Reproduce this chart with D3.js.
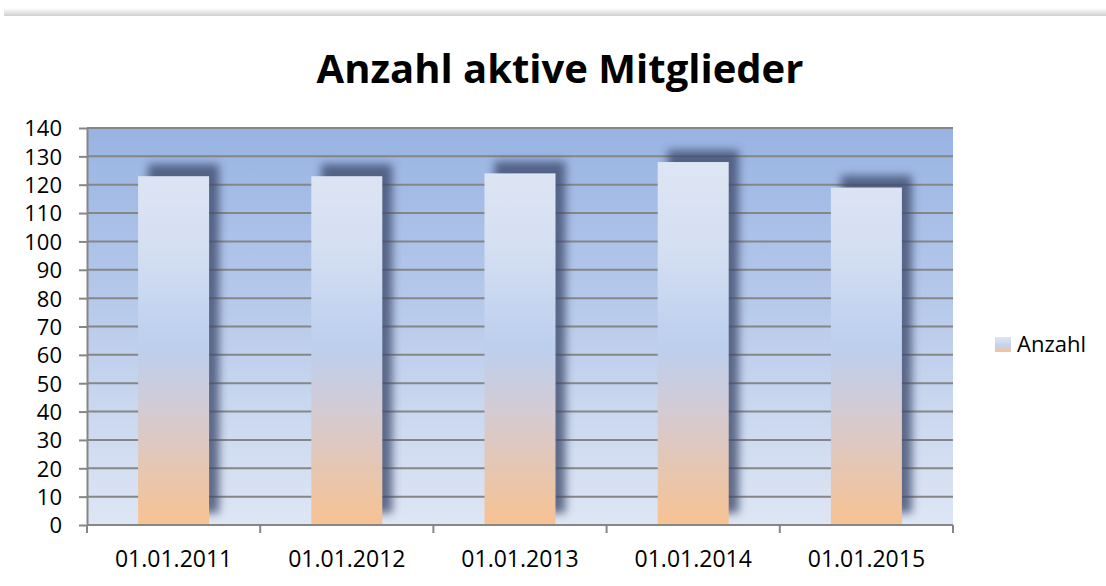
<!DOCTYPE html>
<html>
<head>
<meta charset="utf-8">
<script src="https://cdn.jsdelivr.net/npm/d3@7"></script>
<style>
  body { margin: 0; background: #fff; }
  svg { display: block; font-family: "Open Sans", "Noto Sans", sans-serif; }
</style>
</head>
<body>
<svg id="chart"></svg>
<script>
const categories = ["01.01.2011", "01.01.2012", "01.01.2013", "01.01.2014", "01.01.2015"];
const values = [123, 123, 124, 128, 119];
const yTicks = [0, 10, 20, 30, 40, 50, 60, 70, 80, 90, 100, 110, 120, 130, 140];
const seriesName = "Anzahl";
const title = "Anzahl aktive Mitglieder";

const width = 1106;
const height = 586;
const marginTop = 128;
const marginRight = 153;
const marginBottom = 61;
const marginLeft = 87;

const svg = d3.select("#chart")
  .attr("width", width)
  .attr("height", height)
  .attr("viewBox", [0, 0, width, height]);

const x = d3.scaleBand(categories, [marginLeft, width - marginRight]).paddingInner(0.59).paddingOuter(0.295);
const y = d3.scaleLinear([0, 140], [height - marginBottom, marginTop]);

const defs = svg.append("defs");

// фон области построения
const bg = defs.append("linearGradient")
  .attr("id", "bg-grad")
  .attr("x1", 0).attr("y1", 0).attr("x2", 0).attr("y2", 1);
bg.append("stop").attr("offset", "0%").attr("stop-color", "#98b3e3");
bg.append("stop").attr("offset", "100%").attr("stop-color", "#dee6f4");

// градиент столбцов
const barGrad = defs.append("linearGradient")
  .attr("id", "bar-grad")
  .attr("gradientUnits", "userSpaceOnUse")
  .attr("x1", 0).attr("y1", y(140)).attr("x2", 0).attr("y2", y(0));
[
  {offset: "0%", color: "#e2e8f5"},
  {offset: "30%", color: "#d5dff2"},
  {offset: "55%", color: "#bccfee"},
  {offset: "70%", color: "#d2cbd6"},
  {offset: "100%", color: "#f8c292"}
].forEach(s => barGrad.append("stop").attr("offset", s.offset).attr("stop-color", s.color));

const legGrad = defs.append("linearGradient")
  .attr("id", "leg-grad")
  .attr("x1", 0).attr("y1", 0).attr("x2", 0).attr("y2", 1);
legGrad.append("stop").attr("offset", "0%").attr("stop-color", "#dfe6f4");
legGrad.append("stop").attr("offset", "55%").attr("stop-color", "#c3d3ef");
legGrad.append("stop").attr("offset", "100%").attr("stop-color", "#f8c292");

defs.append("filter")
  .attr("id", "blur")
  .attr("x", "-30%").attr("y", "-30%").attr("width", "160%").attr("height", "160%")
  .append("feGaussianBlur").attr("stdDeviation", 4.5);

const topGrad = defs.append("linearGradient")
  .attr("id", "top-grad")
  .attr("x1", 0).attr("y1", 0).attr("x2", 0).attr("y2", 1);
topGrad.append("stop").attr("offset", "0%").attr("stop-color", "#fff");
topGrad.append("stop").attr("offset", "100%").attr("stop-color", "#cfcfcf");

// полоса сверху (край страницы)
svg.append("rect")
  .attr("x", 4).attr("y", 8).attr("width", width - 4).attr("height", 8)
  .attr("fill", "url(#top-grad)");

// заголовок
svg.append("text")
  .attr("x", 560).attr("y", 83)
  .attr("text-anchor", "middle")
  .attr("font-weight", "bold")
  .attr("font-size", 40)
  .attr("fill", "#000")
  .text(title);

// фон
svg.append("rect")
  .attr("x", marginLeft).attr("y", marginTop)
  .attr("width", width - marginLeft - marginRight)
  .attr("height", height - marginTop - marginBottom)
  .attr("fill", "url(#bg-grad)");

// линии сетки
svg.append("g")
  .selectAll("line")
  .data(yTicks.filter(d => d > 0))
  .join("line")
  .attr("x1", marginLeft).attr("x2", width - marginRight)
  .attr("y1", d => y(d)).attr("y2", d => y(d))
  .attr("stroke", "#868686")
  .attr("stroke-width", 2);

// тени
svg.append("g")
  .selectAll("rect")
  .data(values)
  .join("rect")
  .attr("x", (d, i) => x(categories[i]) + 10)
  .attr("y", d => y(d) - 12)
  .attr("width", x.bandwidth())
  .attr("height", d => y(0) - y(d))
  .attr("fill", "#3c4a6c")
  .attr("opacity", 0.78)
  .attr("filter", "url(#blur)");

// столбцы
svg.append("g")
  .selectAll("rect")
  .data(values)
  .join("rect")
  .attr("x", (d, i) => x(categories[i]))
  .attr("y", d => y(d))
  .attr("width", x.bandwidth())
  .attr("height", d => y(0) - y(d))
  .attr("fill", "url(#bar-grad)");

// ось Y
const yAxis = svg.append("g")
  .attr("transform", `translate(${marginLeft},0)`)
  .call(d3.axisLeft(y).tickValues(yTicks).tickSize(8).tickPadding(17).tickSizeOuter(0))
  .attr("font-family", null)
  .attr("font-size", null);
yAxis.selectAll("line, path").attr("stroke", "#868686").attr("stroke-width", 2);
yAxis.selectAll(".tick text").attr("fill", "#000").style("font-size", "22px").attr("dy", "0.36em");

// ось X
const xEdges = d3.scaleLinear([0, categories.length], [marginLeft, width - marginRight]);
const xAxis = svg.append("g").attr("transform", `translate(0,${height - marginBottom})`);
xAxis.append("line")
  .attr("x1", marginLeft).attr("x2", width - marginRight)
  .attr("stroke", "#868686").attr("stroke-width", 2);
xAxis.selectAll(".edge")
  .data(d3.range(categories.length + 1))
  .join("line")
  .attr("class", "edge")
  .attr("x1", d => xEdges(d)).attr("x2", d => xEdges(d))
  .attr("y1", 0).attr("y2", 8)
  .attr("stroke", "#868686").attr("stroke-width", 2);
xAxis.selectAll("text")
  .data(categories)
  .join("text")
  .attr("x", d => x(d) + x.bandwidth() / 2)
  .attr("y", 42)
  .attr("text-anchor", "middle")
  .style("font-size", "23px")
  .attr("fill", "#000")
  .text(d => d);

// легенда
const legend = svg.append("g").attr("transform", "translate(995,337)");
legend.append("rect").attr("width", 16).attr("height", 15).attr("fill", "url(#leg-grad)");
legend.append("text")
  .attr("x", 22).attr("y", 15)
  .style("font-size", "22px")
  .attr("fill", "#000")
  .text(seriesName);
</script>
</body>
</html>
